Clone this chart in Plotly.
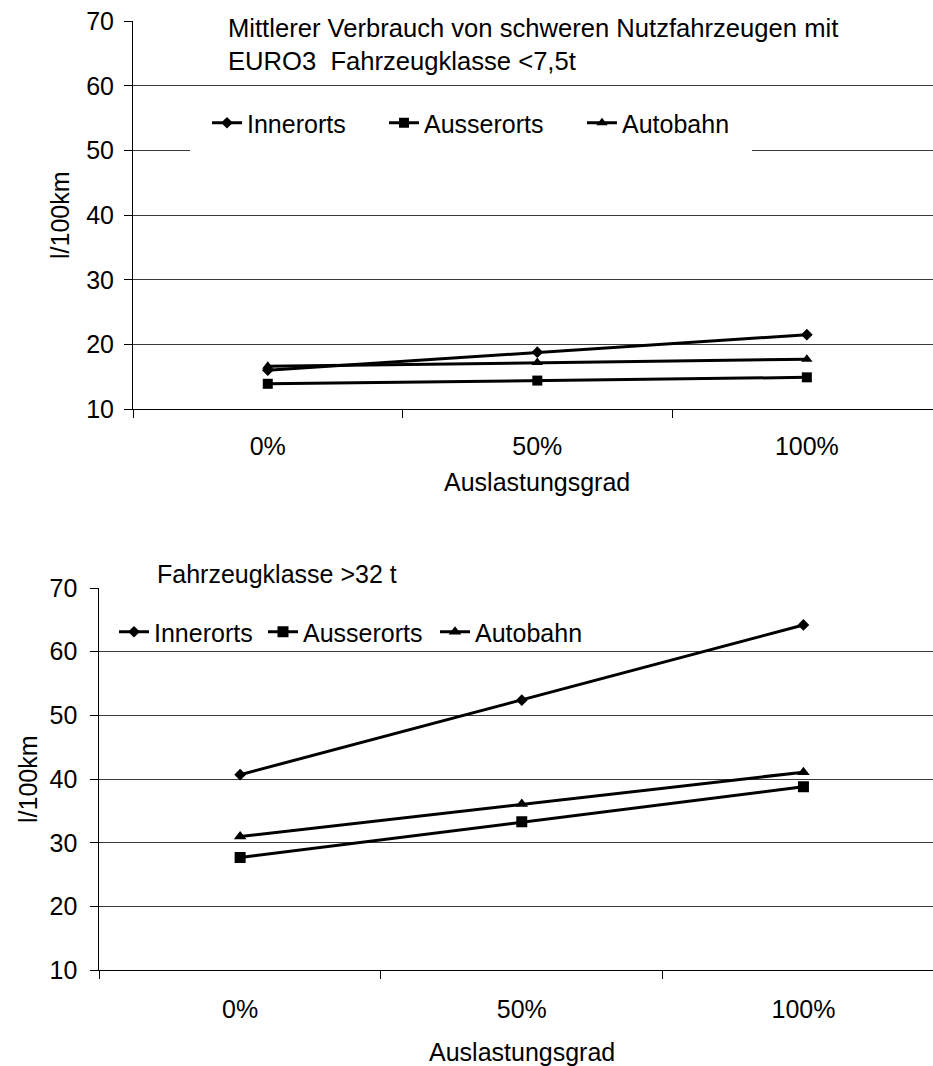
import plotly.graph_objects as go

# ---------------- data ----------------
categories = ["0%", "50%", "100%"]
series_names = ["Innerorts", "Ausserorts", "Autobahn"]

top_innerorts = [16.0, 18.8, 21.5]
top_ausserorts = [13.9, 14.4, 14.9]
top_autobahn = [16.6, 17.2, 17.7]

bottom_innerorts = [40.7, 52.4, 64.2]
bottom_ausserorts = [27.7, 33.3, 38.8]
bottom_autobahn = [31.0, 36.1, 41.1]

y_ticks = [10, 20, 30, 40, 50, 60, 70]

top_title = "Mittlerer Verbrauch von schweren Nutzfahrzeugen mit<br>EURO3  Fahrzeugklasse <7,5t"
bottom_title = "Fahrzeugklasse >32 t"
x_title = "Auslastungsgrad"
y_title = "l/100km"

# ---------------- layout helpers ----------------
W, H = 933, 1066
FONT = "Liberation Sans, Arial, sans-serif"
FS = 25
FS_TITLE = 25.6


def px(x):
    return x / W


def py(y):
    return 1 - y / H


symbols = ["diamond", "square", "triangle-up"]
top_sizes = [9, 10, 10]
bot_sizes = [9, 11, 11]

fig = go.Figure()

top_data = [top_innerorts, top_ausserorts, top_autobahn]
bot_data = [bottom_innerorts, bottom_ausserorts, bottom_autobahn]

for i, (name, vals) in enumerate(zip(series_names, top_data)):
    fig.add_trace(go.Scatter(
        x=categories, y=vals, name=name, mode="lines+markers",
        line=dict(color="black", width=3),
        marker=dict(symbol=symbols[i], size=top_sizes[i], color="black"),
        xaxis="x", yaxis="y", legend="legend" if i == 0 else f"legend{i+1}",
        showlegend=True,
    ))

for i, (name, vals) in enumerate(zip(series_names, bot_data)):
    fig.add_trace(go.Scatter(
        x=categories, y=vals, name=name, mode="lines+markers",
        line=dict(color="black", width=3),
        marker=dict(symbol=symbols[i], size=bot_sizes[i], color="black"),
        xaxis="x2", yaxis="y2", legend=f"legend{i+4}",
        showlegend=True,
    ))

axis_common = dict(
    showline=True, linecolor="black", linewidth=1,
    ticks="outside", ticklen=8, tickcolor="black",
    zeroline=False, automargin=False,
    tickfont=dict(family=FONT, size=FS, color="black"),
)

fig.update_layout(
    width=W, height=H,
    margin=dict(l=0, r=0, t=0, b=0, pad=0),
    showlegend=True,
    paper_bgcolor="white", plot_bgcolor="white",
    font=dict(family=FONT, size=FS, color="black"),
    xaxis=dict(domain=[px(133), 1], anchor="y", type="category",
               range=[-0.5, 2.468], tickson="boundaries", showgrid=False,
               ticklabelstandoff=15, **axis_common),
    yaxis=dict(domain=[py(409), py(21.3)], anchor="x", range=[10, 70],
               tickvals=y_ticks, showgrid=True, gridcolor="#3a3a3a", gridwidth=1,
               ticklabelstandoff=5, **axis_common),
    xaxis2=dict(domain=[px(99.3), 1], anchor="y2", type="category",
                range=[-0.5, 2.46], tickson="boundaries", showgrid=False,
                ticklabelstandoff=17, **axis_common),
    yaxis2=dict(domain=[py(970.3), py(588)], anchor="x2", range=[10, 70],
                tickvals=y_ticks, showgrid=True, gridcolor="#3a3a3a", gridwidth=1,
                ticklabelstandoff=8, **axis_common),
)

# legends, one per entry so each can sit at its own spot
leg_font = dict(family=FONT, size=FS, color="black")
top_leg_x = [217, 394, 592]
bot_leg_x = [124, 273, 445]
for i, xx in enumerate(top_leg_x):
    key = "legend" if i == 0 else f"legend{i+1}"
    fig.update_layout({key: dict(x=px(xx - 10), y=py(123), xanchor="left", yanchor="middle",
                                 bgcolor="rgba(0,0,0,0)", font=leg_font, orientation="h",
                                 borderwidth=0, visible=True)})
for i, xx in enumerate(bot_leg_x):
    key = f"legend{i+4}"
    fig.update_layout({key: dict(x=px(xx - 10), y=py(632), xanchor="left", yanchor="middle",
                                 bgcolor="rgba(0,0,0,0)", font=leg_font, orientation="h",
                                 borderwidth=0, visible=True)})

# white boxes behind top title and top legend (hide gridlines there)
fig.add_shape(type="rect", xref="paper", yref="paper",
              x0=px(224), x1=1, y0=py(76), y1=py(4),
              fillcolor="white", line=dict(width=0), layer="above")
fig.add_shape(type="rect", xref="paper", yref="paper",
              x0=px(190), x1=px(752), y0=py(158), y1=py(96),
              fillcolor="white", line=dict(width=0), layer="above")

# titles
fig.add_annotation(text=top_title, xref="paper", yref="paper",
                   x=px(226), y=py(44), xanchor="left", yanchor="middle",
                   align="left", showarrow=False, font=dict(family=FONT, size=FS_TITLE))
fig.add_annotation(text=bottom_title, xref="paper", yref="paper",
                   x=px(155), y=py(574), xanchor="left", yanchor="middle",
                   align="left", showarrow=False, font=dict(family=FONT, size=FS))

# axis titles
fig.add_annotation(text=x_title, xref="x", yref="paper", x=1, y=py(482),
                   xanchor="center", yanchor="middle", showarrow=False,
                   font=dict(family=FONT, size=FS))
fig.add_annotation(text=x_title, xref="x2", yref="paper", x=1, y=py(1052),
                   xanchor="center", yanchor="middle", showarrow=False,
                   font=dict(family=FONT, size=FS))
fig.add_annotation(text=y_title, xref="paper", yref="paper", x=px(60), y=py(215),
                   xanchor="center", yanchor="middle", textangle=-90, showarrow=False,
                   font=dict(family=FONT, size=FS))
fig.add_annotation(text=y_title, xref="paper", yref="paper", x=px(28), y=py(779),
                   xanchor="center", yanchor="middle", textangle=-90, showarrow=False,
                   font=dict(family=FONT, size=FS))

fig.write_html("out.html")
